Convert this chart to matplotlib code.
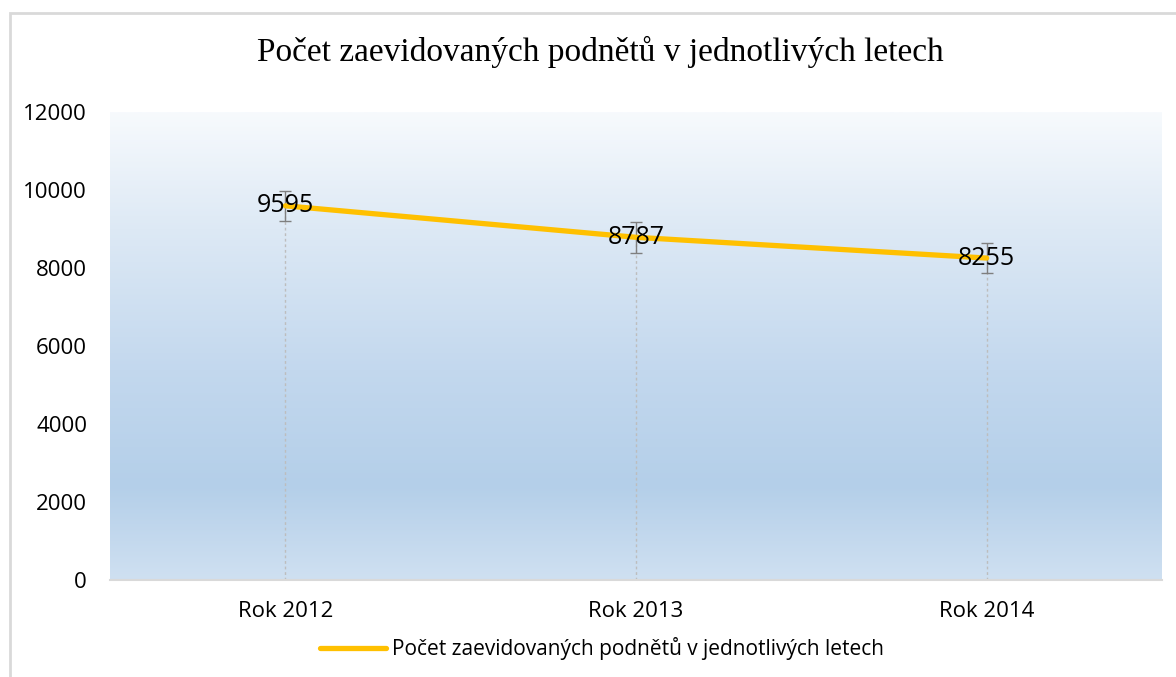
import numpy as np
import matplotlib.pyplot as plt
from matplotlib.colors import LinearSegmentedColormap
from matplotlib.patches import Rectangle

categories = ["Rok 2012", "Rok 2013", "Rok 2014"]
values = [9595, 8787, 8255]
err = 390  # standard error bars
title = "Počet zaevidovaných podnětů v jednotlivých letech"

W, H = 1176, 677
fig = plt.figure(figsize=(W / 100, H / 100), dpi=100)
ax = fig.add_axes([110 / W, 1 - 580 / H, (1162 - 110) / W, (580 - 112) / H])

# outer chart border (cut off at the right and bottom)
fig.patches.append(Rectangle((10 / W, -0.1), 1.2, 1 - 13 / H + 0.1,
                             transform=fig.transFigure, fill=False,
                             edgecolor="#d9d9d9", linewidth=2))

# gradient background of plot area
cmap = LinearSegmentedColormap.from_list(
    "bg", [(0.0, "#cfe0f1"), (0.2, "#b4cfe9"), (0.45, "#c3d8ee"),
           (0.75, "#dde9f5"), (1.0, "#f7fafd")])
grad = np.linspace(0, 1, 256).reshape(-1, 1)
ax.imshow(grad, aspect="auto", cmap=cmap, origin="lower",
          extent=[-0.5, 2.5, 0, 12000], zorder=0)

x = np.arange(len(categories))
ax.vlines(x, 0, values, colors="#bdbdbd", linestyles=(0, (2, 2)),
          linewidth=1, zorder=1)
ax.errorbar(x, values, yerr=err, fmt="none", ecolor="#7f7f7f",
            elinewidth=1, capsize=4.5, capthick=1, zorder=2)
ax.plot(x, values, color="#ffc000", linewidth=3.8, solid_capstyle="round",
        zorder=3, label=title)

for xi, v in zip(x, values):
    ax.text(xi, v, str(v), ha="center", va="center", fontsize=18,
            family="Open Sans", color="black", zorder=4)

ax.set_xlim(-0.5, 2.5)
ax.set_ylim(0, 12000)
ax.set_yticks(range(0, 12001, 2000))
ax.set_xticks(x)
ax.set_xticklabels(categories)
for lbl in ax.get_xticklabels() + ax.get_yticklabels():
    lbl.set_family("Open Sans")
    lbl.set_fontsize(16)
ax.tick_params(axis="x", length=0, pad=15)
ax.tick_params(axis="y", length=0, pad=16.5)
for s in ["top", "right", "left"]:
    ax.spines[s].set_visible(False)
ax.spines["bottom"].set_color("#d9d9d9")
ax.spines["bottom"].set_linewidth(1.5)

fig.text(600 / W, 1 - 52 / H, title, ha="center", va="center",
         fontsize=24, family="Liberation Serif")

leg = fig.legend(loc="center", bbox_to_anchor=(602 / W, 1 - 649 / H),
                 frameon=False, prop={"family": "Open Sans", "size": 15},
                 handlelength=3.2, handletextpad=0.3)

fig.savefig("out.png", dpi=100)
